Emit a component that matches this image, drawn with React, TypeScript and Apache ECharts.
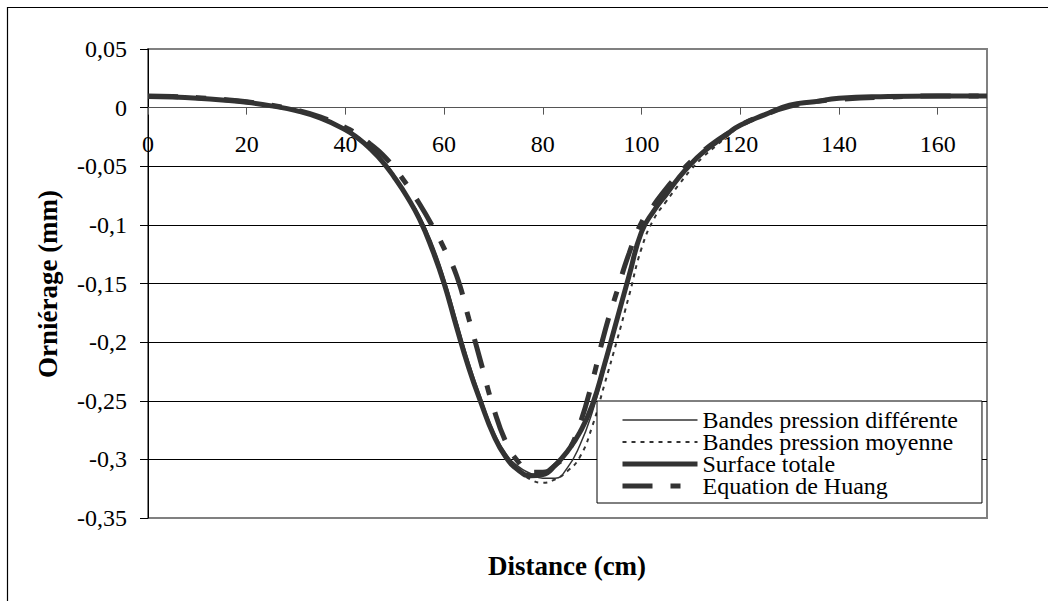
import { useEffect, useRef } from "react";
import * as echarts from "echarts";

// Distance along the transverse profile (cm)
const distance = [
  0, 5, 10, 15, 20, 25, 30, 35, 40, 42.5, 45, 47.5, 50, 52.5, 55, 57.5, 60, 62.5,
  65, 67.5, 70, 72.5, 75, 77.5, 80, 82.5, 85, 87.5, 90, 92.5, 95, 97.5, 100,
  102.5, 105, 107.5, 110, 112.5, 115, 117.5, 120, 125, 130, 135, 140, 150, 160,
  170,
];

// Rut depth (mm) for each model
const bandesDifferente = [
  0.0095, 0.009, 0.008, 0.0065, 0.0045, 0.0015, -0.0025, -0.009, -0.018, -0.025,
  -0.034, -0.045, -0.058, -0.075, -0.092, -0.115, -0.145, -0.181, -0.217, -0.248,
  -0.276, -0.295, -0.306, -0.312, -0.316, -0.316, -0.307, -0.288, -0.26, -0.223,
  -0.184, -0.146, -0.108, -0.089, -0.075, -0.061, -0.049, -0.039, -0.03, -0.022,
  -0.015, -0.006, 0.002, 0.005, 0.008, 0.0095, 0.01, 0.01,
];
const bandesMoyenne = [
  0.0095, 0.009, 0.008, 0.0065, 0.0045, 0.0015, -0.0025, -0.009, -0.018, -0.025,
  -0.034, -0.045, -0.059, -0.075, -0.093, -0.117, -0.147, -0.183, -0.219, -0.25,
  -0.278, -0.297, -0.309, -0.317, -0.32, -0.317, -0.31, -0.298, -0.272, -0.236,
  -0.199, -0.16, -0.12, -0.095, -0.08, -0.066, -0.053, -0.042, -0.033, -0.024,
  -0.016, -0.006, 0.002, 0.005, 0.008, 0.0095, 0.01, 0.01,
];
const surfaceTotale = [
  0.0095, 0.009, 0.008, 0.0065, 0.0045, 0.0015, -0.0025, -0.009, -0.019, -0.026,
  -0.035, -0.046, -0.06, -0.076, -0.095, -0.12, -0.15, -0.187, -0.222, -0.252,
  -0.279, -0.298, -0.309, -0.314, -0.313, -0.305, -0.293, -0.277, -0.254, -0.219,
  -0.181, -0.143, -0.106, -0.088, -0.074, -0.06, -0.048, -0.038, -0.03, -0.022,
  -0.015, -0.006, 0.002, 0.005, 0.008, 0.0095, 0.01, 0.01,
];
const equationHuang = [
  0.01, 0.0095, 0.0085, 0.007, 0.005, 0.002, -0.002, -0.008, -0.017, -0.023,
  -0.031, -0.04, -0.052, -0.066, -0.082, -0.1, -0.12, -0.143, -0.18, -0.218,
  -0.256, -0.285, -0.302, -0.311, -0.311, -0.305, -0.294, -0.27, -0.234, -0.192,
  -0.157, -0.124, -0.098, -0.083, -0.069, -0.057, -0.046, -0.037, -0.029, -0.022,
  -0.015, -0.006, 0.001, 0.005, 0.007, 0.009, 0.01, 0.01,
];

const seriesNames = [
  "Bandes pression différente",
  "Bandes pression moyenne",
  "Surface totale",
  "Equation de Huang",
];

const xTitle = "Distance (cm)";
const yTitle = "Orniérage (mm)";

const X_MIN = 0;
const X_MAX = 170;
const X_STEP = 20;
const Y_MIN = -0.35;
const Y_MAX = 0.05;
const Y_STEP = 0.05;

const SERIF = "'Liberation Serif', 'Times New Roman', serif";
const LINE = "#333333";

const GRID = { left: 148, top: 49, right: 61, bottom: 83 };
const CHART_H = 601;

const pairs = (ys: number[]) => distance.map((d, i) => [d, ys[i]]);

export default function App() {
  const ref = useRef<HTMLDivElement>(null);

  useEffect(() => {
    if (!ref.current) return;
    const chart = echarts.init(ref.current, undefined, { renderer: "svg" });

    // The distance axis sits on the zero depth line: shift it up from the
    // bottom of the plot by the height that separates Y_MIN from zero.
    const plotH = CHART_H - GRID.top - GRID.bottom;
    const zeroOffset = -((0 - Y_MIN) / (Y_MAX - Y_MIN)) * plotH;

    const lineSeries = (
      name: string,
      ys: number[],
      width: number,
      type: any
    ) => ({
      name,
      type: "line",
      data: pairs(ys),
      showSymbol: false,
      symbol: "none",
      smooth: 0.5,
      lineStyle: { color: LINE, width, type },
      itemStyle: { color: LINE },
    });

    chart.setOption({
      animation: false,
      backgroundColor: "#ffffff",
      grid: {
        ...GRID,
        show: true,
        borderColor: "#808080",
        borderWidth: 2,
      },
      xAxis: {
        type: "value",
        min: X_MIN,
        max: X_MAX,
        interval: X_STEP,
        offset: zeroOffset,
        axisLine: { onZero: false, lineStyle: { color: "#555555", width: 1 } },
        axisTick: { show: true, length: 7, lineStyle: { color: "#555555" } },
        axisLabel: {
          showMaxLabel: false,
          margin: 24,
          fontFamily: SERIF,
          fontSize: 24,
          color: "#000",
        },
        splitLine: { show: false },
      },
      yAxis: {
        type: "value",
        min: Y_MIN,
        max: Y_MAX,
        interval: Y_STEP,
        axisLine: { show: true, onZero: false, lineStyle: { color: "#000", width: 1 } },
        axisTick: { show: true, length: 8, lineStyle: { color: "#000" } },
        axisLabel: {
          margin: 21,
          fontFamily: SERIF,
          fontSize: 24,
          color: "#000",
          formatter: (v: number) => {
            const r = Math.round(v * 100) / 100;
            return r === 0 ? "0" : String(r).replace(".", ",");
          },
        },
        splitLine: {
          show: true,
          lineStyle: {
            color: [
              "#808080", "#000", "#000", "#000", "#000", "#000", "#000", "#000", "#808080",
            ],
            width: 1,
          },
        },
      },
      legend: {
        orient: "vertical",
        left: 597,
        top: 401,
        padding: [7, 24, 5, 23],
        itemGap: -2,
        itemWidth: 75,
        itemHeight: 12,
        borderColor: "#000",
        borderWidth: 1,
        backgroundColor: "#fff",
        selectedMode: false,
        itemStyle: { opacity: 0 },
        lineStyle: { width: "inherit" },
        data: seriesNames,
        textStyle: { fontFamily: SERIF, fontSize: 24, color: "#000" },
      },
      graphic: [
        {
          type: "rect",
          silent: true,
          shape: { x: 7.5, y: 7.5, width: 1100, height: 700 },
          style: { fill: "none", stroke: "#000", lineWidth: 1.2 },
          z: 100,
        },
        {
          type: "text",
          x: 567,
          y: 566,
          style: {
            text: xTitle,
            font: `bold 27px ${SERIF}`,
            fill: "#000",
            textAlign: "center",
            textVerticalAlign: "middle",
          },
        },
        {
          type: "text",
          x: 48,
          y: 284,
          rotation: Math.PI / 2,
          style: {
            text: yTitle,
            font: `bold 27px ${SERIF}`,
            fill: "#000",
            textAlign: "center",
            textVerticalAlign: "middle",
          },
        },
      ],
      series: [
        lineSeries(seriesNames[0], bandesDifferente, 1.5, "solid"),
        lineSeries(seriesNames[1], bandesMoyenne, 2, [4, 5]),
        lineSeries(seriesNames[2], surfaceTotale, 5, "solid"),
        lineSeries(seriesNames[3], equationHuang, 5, [30, 18, 10, 18]),
      ],
    });

    return () => chart.dispose();
  }, []);

  return (
    <div
      ref={ref}
      style={{
        position: "fixed",
        left: 0,
        top: 0,
        width: 1048,
        height: CHART_H,
        background: "#fff",
      }}
    />
  );
}
